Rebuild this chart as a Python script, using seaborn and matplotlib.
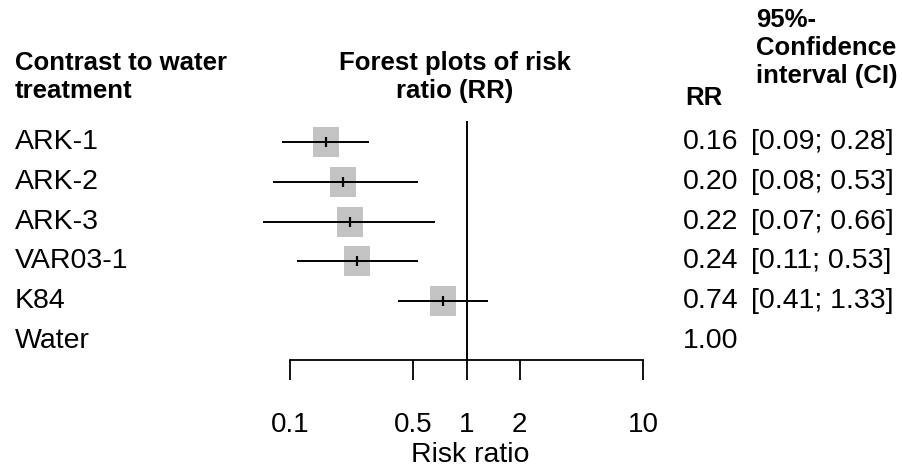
import numpy as np
import pandas as pd
import matplotlib
matplotlib.use("Agg")
import matplotlib.pyplot as plt
import matplotlib.transforms as mtransforms
import seaborn as sns

sns.set_style("white")
plt.rcParams['font.family'] = ['Liberation Sans', 'DejaVu Sans']
plt.rcParams.update({'text.color': 'black', 'axes.labelcolor': 'black',
                     'xtick.color': 'black', 'axes.edgecolor': 'black'})

# data
labels = ['ARK-1', 'ARK-2', 'ARK-3', 'VAR03-1', 'K84', 'Water']
rr = [0.16, 0.20, 0.22, 0.24, 0.74, 1.00]
ci_low = [0.09, 0.08, 0.07, 0.11, 0.41, np.nan]
ci_high = [0.28, 0.53, 0.66, 0.53, 1.33, np.nan]
xticks = [0.1, 0.5, 1, 2, 10]
xtick_labels = ['0.1', '0.5', '1', '2', '10']

W, H = 902, 475
df = pd.DataFrame({'label': labels, 'rr': rr, 'lo': ci_low, 'hi': ci_high})
df['row'] = np.arange(len(df))
est = df.dropna()

fig = plt.figure(figsize=(W / 100, H / 100), dpi=100)


def fx(px):
    return px / W


def fy(py):
    return 1 - py / H


# forest panel, positioned in pixels
ax_l, ax_r, ax_t, ax_b = 260, 680, 121, 360
ax = fig.add_axes([fx(ax_l), fy(ax_b), (ax_r - ax_l) / W, (ax_b - ax_t) / H])
ax.set_xscale('log')
ax.set_xlim(10 ** (-1 - 30 / 176.5), 10 ** (1 + 37 / 176.5))
ax.set_ylim(5.48, -0.53)

# confidence interval lines
ax.hlines(est['row'], est['lo'], est['hi'], color='black', lw=1.4, zorder=2)
# grey boxes (26x30 px)
box = [(-13, -15), (13, -15), (13, 15), (-13, 15), (-13, -15)]
sns.scatterplot(data=est, x='rr', y='row', marker=box, s=(30 * 0.72) ** 2,
                color='#c3c3c3', linewidth=0, ax=ax, zorder=1, legend=False)
# point estimate tick
sns.scatterplot(data=est, x='rr', y='row', marker='|', s=45, color='black',
                linewidth=1.6, ax=ax, zorder=3, legend=False)
ax.axvline(1, color='black', lw=1.4)

for s in ['top', 'right', 'left']:
    ax.spines[s].set_visible(False)
ax.spines['bottom'].set_bounds(0.1, 10)
ax.spines['bottom'].set_linewidth(1.3)
ax.set_xticks(xticks)
ax.set_xticklabels(xtick_labels)
ax.xaxis.set_minor_locator(matplotlib.ticker.NullLocator())
ax.tick_params(axis='x', direction='out', length=14.4, width=1.3, pad=23,
               labelsize=20, bottom=True)
ax.set_yticks([])
ax.set_xlabel('Risk ratio', fontsize=20.5, labelpad=3)
ax.set_ylabel('')

# row text: left labels, RR and CI columns
row_tf = mtransforms.blended_transform_factory(fig.transFigure, ax.transData)
for _, r in df.iterrows():
    ax.text(fx(15), r['row'], r['label'], transform=row_tf, fontsize=20.5,
            va='center', ha='left')
    ax.text(fx(683), r['row'], f"{r['rr']:.2f}", transform=row_tf,
            fontsize=20.5, va='center', ha='left')
    if not np.isnan(r['lo']):
        ax.text(fx(751), r['row'], f"[{r['lo']:.2f}; {r['hi']:.2f}]",
                transform=row_tf, fontsize=20.5, va='center', ha='left')

# headers
hdr = dict(fontsize=18.5, fontweight='bold', linespacing=1.2)
fig.text(fx(15), fy(51), 'Contrast to water\ntreatment', va='top', ha='left', **hdr)
fig.text(fx(455), fy(51), 'Forest plots of risk\nratio (RR)', va='top', ha='center',
         multialignment='center', **hdr)
fig.text(fx(685), fy(98), 'RR', va='center', ha='left', **hdr)
fig.text(fx(756), fy(8), '95%-\nConfidence\ninterval (CI)', va='top', ha='left', **hdr)

fig.savefig('out.png', dpi=100)
